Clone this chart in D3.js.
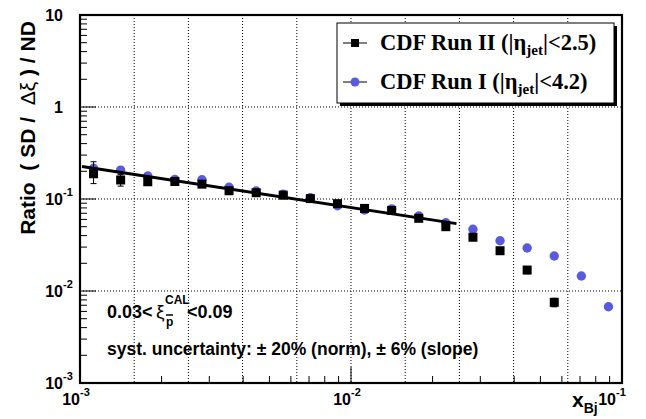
<!DOCTYPE html>
<html><head><meta charset="utf-8">
<script src="https://cdn.jsdelivr.net/npm/d3@7"></script>
<style>body{margin:0;background:#fff}svg{display:block}text{white-space:pre}</style>
</head><body>
<svg id="c" width="646" height="419"></svg>
<script>
// ---- data ----
const xBinsLog = [-2.95,-2.85,-2.75,-2.65,-2.55,-2.45,-2.35,-2.25,-2.15,-2.05,-1.95,-1.85,-1.75,-1.65,-1.55,-1.45,-1.35,-1.25,-1.15,-1.05];
const runII = [0.188,0.161,0.154,0.155,0.145,0.123,0.117,0.110,0.101,0.089,0.079,0.075,0.0617,0.050,0.0384,0.0274,0.0169,0.00753];
const runIIErrUp = [0.066,0.023,0.01,0.01,0.009,0.007,0.006,0.006,0.005,0.005,0.004,0.004,0.004,0.003,0.003,0.002,0.0015,0.0008];
const runIIErrDn = [0.041,0.023,0.01,0.01,0.009,0.007,0.006,0.006,0.005,0.005,0.004,0.004,0.004,0.003,0.003,0.002,0.0015,0.0008];
const runI = [0.216,0.206,0.178,0.163,0.162,0.134,0.122,0.113,0.103,0.0846,0.076,0.078,0.0654,0.0552,0.0469,0.0352,0.0293,0.024,0.01456,0.00675];
const fitX = [0.001, 0.0245];
const fitY = [0.226, 0.054];
const yDecades = [1e-3,1e-2,1e-1,1,10];
const yLabelBase = ["10","10","10","1","10"];
const yLabelExp = ["-3","-2","-1","",""];
const xDecades = [1e-3,1e-2,1e-1];
const xLabelExp = ["-3","-2","-1"];
const legendLabels = [["CDF Run II (|η","jet","|<2.5)"],["CDF Run I (|η","jet","|<4.2)"]];

// ---- layout ----
const L=80,R=622,T=15,B=383;
const svg=d3.select("#c");
svg.append("rect").attr("width",646).attr("height",419).attr("fill","#fff");
const x=d3.scaleLog().domain([1e-3,1e-1]).range([L,R]);
const y=d3.scaleLog().domain([1e-3,10]).range([B,T]);
const gridX=d3.scaleLinear().domain([0,10]).range([L,R]);
const sans="Liberation Sans, Arial, Helvetica, sans-serif";
const serif="Liberation Serif, Times New Roman, serif";

// grid
const g=svg.append("g").attr("stroke","#000").attr("stroke-width",1).attr("stroke-dasharray","1,2");
d3.range(1,10).forEach(k=>g.append("line").attr("x1",gridX(k)).attr("x2",gridX(k)).attr("y1",T).attr("y2",B));
[1e-2,1e-1,1].forEach(v=>g.append("line").attr("x1",L).attr("x2",R).attr("y1",y(v)).attr("y2",y(v)));

// ticks
const tk=svg.append("g").attr("stroke","#000").attr("stroke-width",1);
for(let e=-3;e<1;e++){ for(let m=1;m<10;m++){ const v=m*Math.pow(10,e); const len=m===1?16:7;
  tk.append("line").attr("x1",L).attr("x2",L+len).attr("y1",y(v)).attr("y2",y(v)); } }
for(let e=-3;e<-1;e++){ for(let m=1;m<10;m++){ const v=m*Math.pow(10,e); const len=m===1?16:7;
  tk.append("line").attr("x1",x(v)).attr("x2",x(v)).attr("y1",B).attr("y2",B-len); } }

// frame
svg.append("rect").attr("x",L).attr("y",T).attr("width",R-L).attr("height",B-T)
  .attr("fill","none").attr("stroke","#000").attr("stroke-width",2.2);

// y tick labels
yDecades.forEach((v,i)=>{
  svg.append("text").attr("x",63).attr("y",y(v)+6).attr("text-anchor","end")
    .attr("font-family",sans).attr("font-weight","bold").attr("font-size",16).text(yLabelBase[i]);
  if(yLabelExp[i]) svg.append("text").attr("x",63).attr("y",y(v)-3)
    .attr("font-family",sans).attr("font-weight","bold").attr("font-size",11).text(yLabelExp[i]);
});
// x tick labels
xDecades.forEach((v,i)=>{
  const xx=Math.min(x(v),616);
  svg.append("text").attr("x",xx).attr("y",405).attr("text-anchor","end")
    .attr("font-family",sans).attr("font-weight","bold").attr("font-size",16).text("10");
  svg.append("text").attr("x",xx).attr("y",396)
    .attr("font-family",sans).attr("font-weight","bold").attr("font-size",11).text(xLabelExp[i]);
});

// axis titles
const yt=svg.append("text").attr("transform","translate(35,128) rotate(-90)").attr("text-anchor","middle")
  .attr("font-family",sans).attr("font-weight","bold").attr("font-size",21);
yt.append("tspan").text("Ratio  ( SD / ");
yt.append("tspan").attr("font-weight","normal").text(" Δξ");
yt.append("tspan").text(" ) / ND");
const xt=svg.append("text").attr("x",572).attr("y",407).attr("font-family",sans).attr("font-weight","bold").attr("font-size",21);
xt.append("tspan").text("x");
xt.append("tspan").attr("dy",6).attr("font-size",14).text("Bj");

// Run I circles
svg.append("g").selectAll("circle").data(runI).join("circle")
  .attr("cx",(d,i)=>x(Math.pow(10,xBinsLog[i]))).attr("cy",d=>y(d)).attr("r",4.7).attr("fill","#5a5ade");

// fit line
svg.append("line").attr("x1",x(fitX[0])+2).attr("y1",y(fitY[0])).attr("x2",x(fitX[1])).attr("y2",y(fitY[1]))
  .attr("stroke","#000").attr("stroke-width",3);

// Run II error bars + squares
const eb=svg.append("g").attr("stroke","#000").attr("stroke-width",1);
runII.forEach((d,i)=>{
  const cx=x(Math.pow(10,xBinsLog[i]));
  const y1=y(d+runIIErrUp[i]), y2=y(d-runIIErrDn[i]);
  eb.append("line").attr("x1",cx).attr("x2",cx).attr("y1",y1).attr("y2",y2);
  eb.append("line").attr("x1",cx-3).attr("x2",cx+3).attr("y1",y1).attr("y2",y1);
  eb.append("line").attr("x1",cx-3).attr("x2",cx+3).attr("y1",y2).attr("y2",y2);
});
svg.append("g").selectAll("rect").data(runII).join("rect")
  .attr("x",(d,i)=>x(Math.pow(10,xBinsLog[i]))-4.5).attr("y",d=>y(d)-4.5).attr("width",9).attr("height",9).attr("fill","#000");

// annotations
svg.append("text").attr("x",107).attr("y",318).attr("font-family",sans).attr("font-weight","bold").attr("font-size",18).text("0.03<");
svg.append("text").attr("x",156).attr("y",318).attr("font-family",sans).attr("font-size",19).text("ξ");
svg.append("text").attr("x",165).attr("y",304).attr("font-family",sans).attr("font-weight","bold").attr("font-size",12).text("CAL");
svg.append("text").attr("x",166).attr("y",326).attr("font-family",sans).attr("font-weight","bold").attr("font-size",12).text("p");
svg.append("line").attr("x1",166).attr("x2",173).attr("y1",315).attr("y2",315).attr("stroke","#000").attr("stroke-width",1.5);
svg.append("text").attr("x",187).attr("y",318).attr("font-family",sans).attr("font-weight","bold").attr("font-size",18).text("<0.09");
svg.append("text").attr("x",107).attr("y",355).attr("font-family",sans).attr("font-weight","bold").attr("font-size",17.5)
  .text("syst. uncertainty: ± 20% (norm), ± 6% (slope)");

// legend
svg.append("rect").attr("x",340).attr("y",26).attr("width",277).attr("height",80).attr("fill","#000");
svg.append("rect").attr("x",337).attr("y",23).attr("width",277).attr("height",80).attr("fill","#fff").attr("stroke","#000").attr("stroke-width",1);
const rows=[43,82];
rows.forEach((ry,i)=>{
  svg.append("line").attr("x1",343).attr("x2",367).attr("y1",ry).attr("y2",ry).attr("stroke","#000").attr("stroke-width",1);
  if(i===0) svg.append("rect").attr("x",351).attr("y",ry-4).attr("width",8).attr("height",8).attr("fill","#000");
  else svg.append("circle").attr("cx",355).attr("cy",ry).attr("r",4.5).attr("fill","#5a5ade");
  const t=svg.append("text").attr("x",380).attr("y",ry+7).attr("font-family",serif).attr("font-weight","bold").attr("font-size",22.5);
  t.append("tspan").text(legendLabels[i][0]);
  t.append("tspan").attr("dy",5).attr("font-size",15).text(legendLabels[i][1]);
  t.append("tspan").attr("dy",-5).text(legendLabels[i][2]);
});
</script>
</body></html>
